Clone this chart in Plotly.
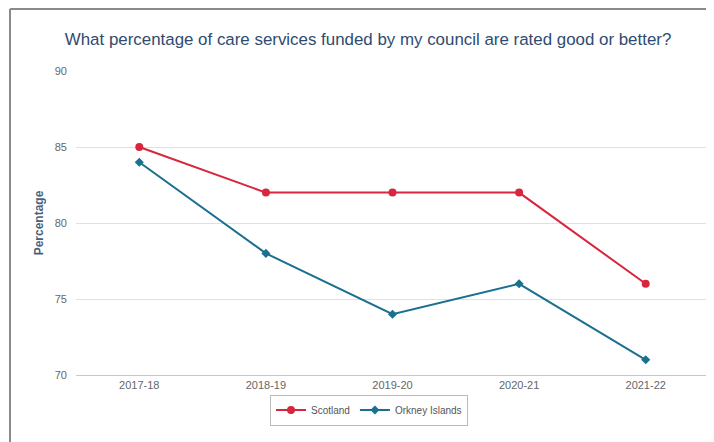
import plotly.graph_objects as go

years = ["2017-18", "2018-19", "2019-20", "2020-21", "2021-22"]
scotland = [85, 82, 82, 82, 76]
orkney = [84, 78, 74, 76, 71]
y_ticks = [70, 75, 80, 85, 90]

RED = "#d7263d"
TEAL = "#1b6f8f"

# The page adds an 8px body margin, so the figure is sized to fit the window.
W, H = 706, 434
ML, MR, MT, MB = 68, 5, 63, 67

fig = go.Figure()
fig.add_trace(go.Scatter(
    x=years, y=scotland, name="Scotland", mode="lines+markers",
    line=dict(color=RED, width=2),
    marker=dict(symbol="circle", size=8, color=RED),
))
fig.add_trace(go.Scatter(
    x=years, y=orkney, name="Orkney Islands", mode="lines+markers",
    line=dict(color=TEAL, width=2),
    marker=dict(symbol="diamond", size=7, color=TEAL),
))

pw = W - ML - MR
ph = H - MT - MB

fig.update_layout(
    width=W, height=H,
    margin=dict(l=ML, r=MR, t=MT, b=MB),
    paper_bgcolor="white", plot_bgcolor="white",
    font=dict(family="Liberation Sans, Arial, sans-serif", color="#666666", size=11),
    title=dict(
        text="What percentage of care services funded by my council are rated good or better?",
        x=0.51, xanchor="center", y=0.929, yanchor="middle",
        font=dict(size=16.9, color="#2f4b70"),
    ),
    xaxis=dict(
        type="category", range=[-0.5, 4.5],
        showgrid=False, showline=True, linecolor="#c8c8c8", linewidth=1,
        ticks="", tickfont=dict(size=11, color="#666666"),
    ),
    yaxis=dict(
        range=[70, 90], tickvals=y_ticks, ticks="",
        showgrid=True, gridcolor="#e0e0e0", gridwidth=1,
        zeroline=False, showline=False,
        tickfont=dict(size=11, color="#666666"), ticklabelstandoff=8,
        title=dict(text="<b>Percentage</b>", font=dict(size=12, color="#4a5f7a"), standoff=8),
    ),
    legend=dict(
        orientation="h", x=(361 - ML) / pw, xanchor="center", y=-35 / ph, yanchor="middle",
        bordercolor="#bbbbbb", borderwidth=1, bgcolor="white",
        font=dict(size=10, color="#555555"), itemwidth=30,
        tracegroupgap=0,
    ),
    showlegend=True,
)

# panel frame (top and left border of the original panel)
top = (H - MB - 1) / ph
left = (2 - ML) / pw
fig.add_shape(type="line", xref="paper", yref="paper",
              x0=left, x1=(W - ML) / pw, y0=top, y1=top,
              line=dict(color="#8a8a8a", width=2))
fig.add_shape(type="line", xref="paper", yref="paper",
              x0=left, x1=left, y0=top, y1=-MB / ph,
              line=dict(color="#8a8a8a", width=2))

fig.write_html("out.html")
